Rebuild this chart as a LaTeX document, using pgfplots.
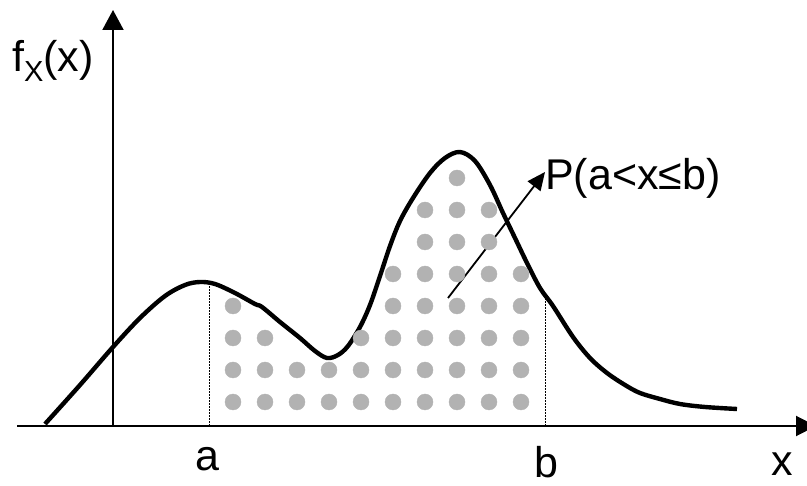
\documentclass[border=0pt]{standalone}
\usepackage{pgfplots}
\pgfplotsset{compat=1.18}
\usepackage{fontspec}
\setmainfont{Liberation Sans}
\usetikzlibrary{arrows.meta}
\definecolor{dotgray}{RGB}{178,178,178}
\begin{document}
\begin{tikzpicture}
\begin{axis}[width=807bp, height=486bp, scale only axis,
  xmin=0, xmax=807, ymin=0, ymax=486, hide axis, clip=false]
\coordinate (sw) at (axis cs:0,0);
\coordinate (ne) at (axis cs:807,486);
% shaded dots
\addplot[dotgray, only marks, mark=*, mark size=8bp, mark options={draw=dotgray, fill=dotgray}] coordinates {
(233,84)(265,84)(297,84)(329,84)(361,84)(393,84)(425,84)(457,84)(489,84)(521,84)
(233,116)(265,116)(297,116)(329,116)(361,116)(393,116)(425,116)(457,116)(489,116)(521,116)
(233,148)(265,148)(361,148)(393,148)(425,148)(457,148)(489,148)(521,148)
(233,180)(393,180)(425,180)(457,180)(489,180)(521,180)
(393,212)(425,212)(457,212)(489,212)(521,212)
(425,244)(457,244)(489,244)
(425,276)(457,276)(489,276)
(457,308)
};
% dotted limits
\addplot[black, line width=1bp, dash pattern=on 1.5bp off 1.5bp] coordinates {(209,60) (209,203)};
\addplot[black, line width=1bp, dash pattern=on 1.5bp off 1.5bp] coordinates {(545,60) (545,190)};
% axes
\addplot[black, line width=2bp, -{Triangle[length=20bp,width=20bp]}] coordinates {(17,60) (816,60)};
\addplot[black, line width=2bp, -{Triangle[length=20bp,width=21bp]}] coordinates {(113,60) (113,476)};
% density curve
\addplot[black, line width=4.4bp, smooth, tension=0.55] coordinates {
(45,62)(80,101)(113,139)(140,168)(165,190)(185,201)(200,204)(215,202)(235,193)
(255,182)(262,179)(280,164)(300,148)(315,135)(327,128)(338,131)(348,140)(360,159)
(370,181)(380,210)(390,240)(400,265)(413,288)(430,313)(445,328)(460,334)(475,325)
(490,301)(503,273)(515,248)(527,223)(540,198)(553,180)(573,149)(590,128)(607,113)
(625,101)(640,93)(660,87)(680,82)(705,79)(737,77)
};
% probability arrow
\addplot[black, line width=1.8bp, -{Triangle[length=18bp,width=16bp]}] coordinates {(448,188) (545,314)};
% labels
\node[anchor=base west, inner sep=0pt, font=\fontsize{43bp}{50bp}\selectfont] at (axis cs:545,296) {P(a<x≤b)};
\node[anchor=base west, inner sep=0pt, font=\fontsize{43bp}{50bp}\selectfont] at (axis cs:12,414) {f\raisebox{-10bp}{\fontsize{29bp}{32bp}\selectfont X}(x)};
\node[anchor=base, inner sep=0pt, font=\fontsize{43bp}{50bp}\selectfont] at (axis cs:207,16) {a};
\node[anchor=base, inner sep=0pt, font=\fontsize{43bp}{50bp}\selectfont] at (axis cs:546,9) {b};
\node[anchor=base, inner sep=0pt, font=\fontsize{43bp}{50bp}\selectfont] at (axis cs:782,11) {x};
\end{axis}
\pgfresetboundingbox
\path[use as bounding box] (sw) rectangle (ne);
\end{tikzpicture}
\end{document}
